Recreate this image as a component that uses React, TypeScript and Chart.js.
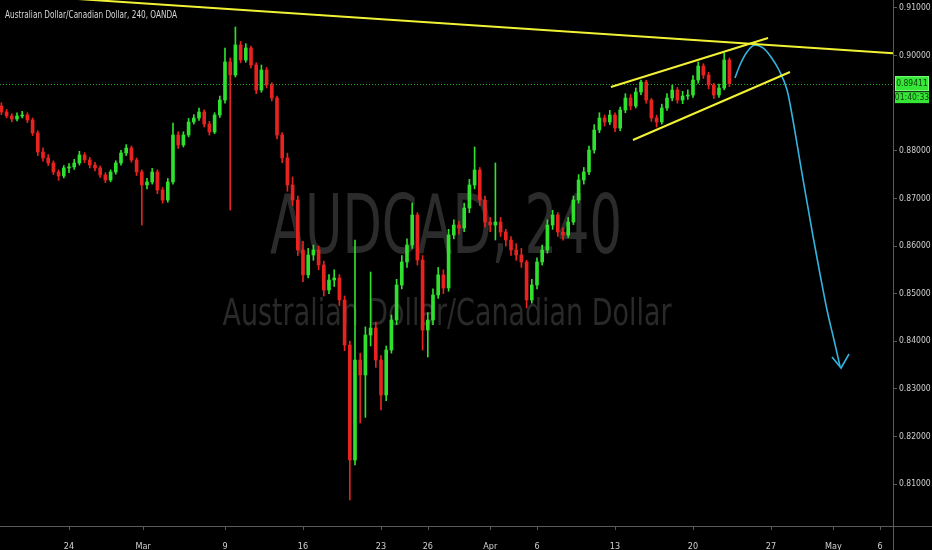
import { useEffect, useRef } from "react"
import { Chart, registerables } from "chart.js"

Chart.register(...registerables)

// 8h candles, 3 per trading day; x unit = trading days counted from Mon Feb 24
const FIRST_BAR_DAY = -13 / 3
const BARS_PER_DAY = 3
const FIRST_OPEN = 0.88941

const closes = [
  0.88815, 0.88731, 0.88668, 0.88731, 0.88752, 0.88647, 0.88374, 0.87975, 0.87849, 0.87744,
  0.87555, 0.87471, 0.87639, 0.8766, 0.87744, 0.87912, 0.87807, 0.87702, 0.87639, 0.87492,
  0.87387, 0.87555, 0.87744, 0.87954, 0.88059, 0.87807, 0.87555, 0.87282, 0.87345, 0.87555,
  0.87176, 0.86966, 0.87345, 0.88332, 0.88122, 0.88332, 0.88605, 0.88689, 0.88815, 0.88563,
  0.88395, 0.88752, 0.89067, 0.89866, 0.89592, 0.90223, 0.89908, 0.9016, 0.89803, 0.89277,
  0.89697, 0.89382, 0.89109, 0.88332, 0.87849, 0.87282, 0.86966, 0.85916, 0.85393, 0.85811,
  0.85916, 0.85601, 0.85076, 0.85286, 0.85328, 0.84866, 0.8392, 0.81504, 0.83605, 0.8329,
  0.8413, 0.84277, 0.83605, 0.8287, 0.83815, 0.84445, 0.85181, 0.85664, 0.86021, 0.86651,
  0.85706, 0.84235, 0.84445, 0.84971, 0.85393, 0.85118, 0.86231, 0.86441, 0.86378, 0.86798,
  0.87282, 0.87597, 0.86966, 0.86504, 0.86441, 0.86504, 0.86294, 0.86126, 0.85916, 0.85811,
  0.85664, 0.84866, 0.85181, 0.85664, 0.85916, 0.86441, 0.86651, 0.86294, 0.86231, 0.86504,
  0.86966, 0.87387, 0.87555, 0.88016, 0.88437, 0.88689, 0.88605, 0.88752, 0.88479, 0.88857,
  0.89109, 0.88941, 0.89235, 0.89445, 0.89067, 0.88689, 0.88605, 0.88899, 0.89109, 0.89277,
  0.89067, 0.89151, 0.89172, 0.89487, 0.89781, 0.89592, 0.89382, 0.89172, 0.89319, 0.89908,
  0.89411,
]

const highs = [
  0.8901, 0.8887, 0.8878, 0.888, 0.8883, 0.888, 0.8869, 0.8842, 0.8806, 0.8792,
  0.8779, 0.876, 0.8769, 0.8773, 0.8782, 0.8799, 0.8796, 0.8786, 0.8776, 0.8768,
  0.8754, 0.876, 0.8779, 0.8801, 0.8813, 0.881, 0.8785, 0.876, 0.8742, 0.8763,
  0.876, 0.8723, 0.8742, 0.88584, 0.884, 0.884, 0.8868, 0.8876, 0.889, 0.8886,
  0.8862, 0.888, 0.8915, 0.9016, 0.8995, 0.90601, 0.903, 0.9025, 0.902, 0.8985,
  0.89803, 0.8975, 0.8943, 0.8915, 0.8838, 0.8795, 0.8745, 0.8705, 0.861, 0.8595,
  0.8602, 0.86, 0.8568, 0.854, 0.855, 0.854, 0.8495, 0.84, 0.86126, 0.8375,
  0.843, 0.85454, 0.844, 0.837, 0.839, 0.8455, 0.853, 0.858, 0.8615, 0.86903,
  0.867, 0.858, 0.846, 0.851, 0.8555, 0.855, 0.8635, 0.8655, 0.8652, 0.869,
  0.874, 0.8808, 0.8765, 0.8705, 0.866, 0.87744, 0.866, 0.8635, 0.862, 0.8605,
  0.8595, 0.857, 0.853, 0.8575, 0.8602, 0.8655, 0.8675, 0.867, 0.8638, 0.866,
  0.8705, 0.875, 0.8765, 0.881, 0.8855, 0.888, 0.8875, 0.8885, 0.888, 0.8892,
  0.892, 0.8918, 0.8932, 0.89487, 0.8948, 0.891, 0.8875, 0.8898, 0.892, 0.8938,
  0.8933, 0.8925, 0.8928, 0.8958, 0.89866, 0.8983, 0.8965, 0.8942, 0.894, 0.90055,
  0.8995,
]

const lows = [
  0.8876, 0.8869, 0.8861, 0.8863, 0.8869, 0.8859, 0.8832, 0.879, 0.8778, 0.8769,
  0.875, 0.8738, 0.8743, 0.8754, 0.8761, 0.877, 0.8775, 0.8764, 0.8758, 0.8744,
  0.8733, 0.8735, 0.8751, 0.877, 0.879, 0.8776, 0.8748, 0.86441, 0.872, 0.873,
  0.871, 0.869, 0.8692, 0.873, 0.8805, 0.8808, 0.8829, 0.8856, 0.8864, 0.885,
  0.8833, 0.8836, 0.887, 0.89, 0.86756, 0.8955, 0.8985, 0.8986, 0.8974, 0.892,
  0.8923, 0.8932, 0.8905, 0.8825, 0.8775, 0.8715, 0.8685, 0.858, 0.8525, 0.8533,
  0.857, 0.855, 0.8495, 0.85, 0.8515, 0.8475, 0.838, 0.80664, 0.814, 0.82282,
  0.824, 0.839, 0.8345, 0.82555, 0.8275, 0.8375, 0.8435, 0.851, 0.8555, 0.8595,
  0.856, 0.83815, 0.83668, 0.8435, 0.849, 0.85, 0.8505, 0.8615, 0.8625, 0.863,
  0.867, 0.872, 0.8685, 0.864, 0.863, 0.86126, 0.862, 0.86, 0.858, 0.857,
  0.8555, 0.84698, 0.848, 0.851, 0.856, 0.8585, 0.8635, 0.862, 0.8612, 0.8618,
  0.8645, 0.869, 0.873, 0.875, 0.8795, 0.8838, 0.8852, 0.8855, 0.884, 0.8842,
  0.888, 0.8886, 0.889, 0.8918, 0.89, 0.8862, 0.885, 0.8856, 0.8885, 0.8905,
  0.89, 0.8899, 0.8908, 0.8912, 0.8942, 0.8952, 0.893, 0.891, 0.8912, 0.8928,
  0.8935,
]

const dateTickDays = [0, 4.75, 10, 15, 20, 23, 27, 30, 35, 40, 45, 49, 52]
const dateTickLabels = ["24", "Mar", "9", "16", "23", "26", "Apr", "6", "13", "20", "27", "May", "6"]
const priceTicks = [0.81, 0.82, 0.83, 0.84, 0.85, 0.86, 0.87, 0.88, 0.9, 0.91]

// hand drawn analysis lines (day, price)
const resistanceDays = [-0.58, 52.82]
const resistancePrices = [0.91214, 0.90048]
const wedgeTopDays = [34.74, 44.81]
const wedgeTopPrices = [0.8934, 0.9037]
const wedgeBottomDays = [36.15, 46.22]
const wedgeBottomPrices = [0.88227, 0.89655]
const forecastDays = [42.69, 43.01, 43.46, 43.97, 44.49, 45.0, 45.51, 46.03, 46.22, 46.54, 46.86, 47.24, 47.69, 48.14, 48.59, 49.04, 49.42]
const forecastPrices = [0.89529, 0.89802, 0.90076, 0.90223, 0.9016, 0.89971, 0.89697, 0.89277, 0.88983, 0.88395, 0.87765, 0.8705, 0.8621, 0.85412, 0.84655, 0.84025, 0.83479]
const arrowDays = [48.91, 49.49, 50.0]
const arrowPrices = [0.83668, 0.83437, 0.83731]

const titleText = "Australian Dollar/Canadian Dollar, 240, OANDA"
const watermarkSymbol = "AUDCAD, 240"
const watermarkName = "Australian Dollar/Canadian Dollar"
const countdownLabel = "01:40:33"

const UP = "#2fe02f"
const DOWN = "#e8231f"
const YELLOW = "#f2f235"
const CYAN = "#33b4de"
const AXIS = "#5a5a5a"
const LABEL = "#cfcfcf"
const NARROW = "'Liberation Sans Narrow', 'DejaVu Sans Condensed', 'Liberation Sans', sans-serif"

const opens = closes.map((_, i) => (i === 0 ? FIRST_OPEN : closes[i - 1]))
const barDay = (i: number) => FIRST_BAR_DAY + i / BARS_PER_DAY
const isUp = (i: number) => closes[i] >= opens[i]
const pts = (xs: number[], ys: number[]) => xs.map((x, i) => ({ x, y: ys[i] }))

function fitText(ctx: CanvasRenderingContext2D, text: string, cx: number, baseline: number, width: number, font: string, color: string) {
  ctx.save()
  ctx.font = font
  ctx.fillStyle = color
  ctx.textAlign = "center"
  ctx.textBaseline = "alphabetic"
  const w = ctx.measureText(text).width
  ctx.translate(cx, baseline)
  ctx.scale(width / w, 1)
  ctx.fillText(text, 0, 0)
  ctx.restore()
}

const decorPlugin = {
  id: "decor",
  beforeDraw(chart: any) {
    const { ctx, width, height } = chart
    ctx.save()
    ctx.fillStyle = "#000"
    ctx.fillRect(0, 0, width, height)
    ctx.restore()
  },
  beforeDatasetsDraw(chart: any) {
    const { ctx, chartArea } = chart
    const y = chart.scales.y
    fitText(ctx, watermarkSymbol, 446, 253, 352, "82px 'DejaVu Sans', sans-serif", "#2b2b2b")
    fitText(ctx, watermarkName, 447, 325, 449, "38px 'DejaVu Sans', sans-serif", "#292929")
    // last price line
    const py = Math.round(y.getPixelForValue(closes[closes.length - 1])) + 0.5
    ctx.save()
    ctx.strokeStyle = "#22a622"
    ctx.lineWidth = 1
    ctx.setLineDash([1, 2])
    ctx.beginPath()
    ctx.moveTo(chartArea.left, py)
    ctx.lineTo(chartArea.right, py)
    ctx.stroke()
    ctx.restore()
  },
  afterDraw(chart: any) {
    const { ctx, chartArea, width, height } = chart
    const y = chart.scales.y
    const x = chart.scales.x
    ctx.save()
    ctx.strokeStyle = AXIS
    ctx.lineWidth = 1
    ctx.beginPath()
    ctx.moveTo(chartArea.right + 0.5, 0)
    ctx.lineTo(chartArea.right + 0.5, height)
    ctx.moveTo(0, chartArea.bottom + 0.5)
    ctx.lineTo(width, chartArea.bottom + 0.5)
    // small date tick marks
    dateTickDays.forEach((d) => {
      const px = Math.round(x.getPixelForValue(d)) + 0.5
      ctx.moveTo(px, chartArea.bottom + 1)
      ctx.lineTo(px, chartArea.bottom + 4)
    })
    ctx.stroke()

    // title
    fitText(ctx, titleText, 5 + 86, 18, 172, "10px 'DejaVu Sans', sans-serif", "#d6d6d6")

    // price label boxes
    const py = y.getPixelForValue(closes[closes.length - 1])
    const bx = chartArea.right + 2
    ctx.fillStyle = "#36e636"
    ctx.fillRect(bx, py - 7.5, 34, 15)
    ctx.fillRect(bx, py + 8.5, 34, 11)
    ctx.strokeStyle = "#7cff7c"
    ctx.strokeRect(bx + 0.5, py - 7, 33, 14)
    ctx.fillStyle = "#0b420b"
    ctx.font = "8.5px " + NARROW
    ctx.textAlign = "center"
    ctx.textBaseline = "middle"
    ctx.fillText(closes[closes.length - 1].toFixed(5), bx + 17, py + 0.5)
    ctx.fillText(countdownLabel, bx + 17, py + 14.5)
    ctx.restore()
  },
}

export default function App() {
  const chartRef = useRef<HTMLCanvasElement>(null)
  const chartInstance = useRef<Chart | null>(null)

  useEffect(() => {
    if (!chartRef.current) return
    if (chartInstance.current) chartInstance.current.destroy()
    const ctx = chartRef.current.getContext("2d")
    if (!ctx) return

    const candleColor = (c: any) => (isUp(c.dataIndex) ? UP : DOWN)
    const analysisLine = (data: any[], color: string, w: number, smooth = false) => ({
      type: "line" as const,
      data,
      borderColor: color,
      borderWidth: w,
      pointRadius: 0,
      cubicInterpolationMode: smooth ? "monotone" : "default",
      tension: 0,
      order: 1,
    })

    chartInstance.current = new Chart(ctx, {
      type: "bar",
      data: {
        datasets: [
          {
            label: "wicks",
            data: closes.map((_, i) => ({ x: barDay(i), y: [lows[i], highs[i]] })) as any,
            backgroundColor: candleColor,
            barThickness: 1,
            grouped: false,
            order: 3,
          },
          {
            label: "bodies",
            data: closes.map((c, i) => ({ x: barDay(i), y: [opens[i], c] })) as any,
            backgroundColor: candleColor,
            barThickness: 3,
            minBarLength: 1,
            grouped: false,
            order: 2,
          },
          analysisLine(pts(resistanceDays, resistancePrices), YELLOW, 2),
          analysisLine(pts(wedgeTopDays, wedgeTopPrices), YELLOW, 2),
          analysisLine(pts(wedgeBottomDays, wedgeBottomPrices), YELLOW, 2),
          analysisLine(pts(forecastDays, forecastPrices), CYAN, 1.6, true),
          analysisLine(pts(arrowDays, arrowPrices), CYAN, 1.6),
        ] as any,
      },
      options: {
        responsive: true,
        maintainAspectRatio: false,
        animation: false,
        layout: { padding: 0 },
        plugins: {
          legend: { display: false },
          tooltip: { enabled: false },
        },
        scales: {
          x: {
            type: "linear",
            offset: false,
            min: -69 / 15.6,
            max: (893 - 69) / 15.6,
            border: { display: false },
            grid: { offset: false, display: false },
            afterBuildTicks: (scale: any) => {
              scale.ticks = dateTickDays.map((v) => ({ value: v }))
            },
            afterFit: (scale: any) => {
              scale.height = 24
              scale.paddingLeft = 0
              scale.paddingRight = 0
            },
            ticks: {
              autoSkip: false,
              maxRotation: 0,
              padding: 7,
              color: LABEL,
              font: { family: NARROW, size: 9 },
              callback: (_v: any, i: number) => dateTickLabels[i],
            },
          },
          y: {
            position: "right",
            min: 0.80118,
            max: 0.91168,
            border: { display: false },
            grid: { drawOnChartArea: false, drawTicks: true, tickLength: 4, color: AXIS },
            afterBuildTicks: (scale: any) => {
              scale.ticks = priceTicks.map((v) => ({ value: v }))
            },
            afterFit: (scale: any) => {
              scale.width = 39
              scale.paddingTop = 0
              scale.paddingBottom = 0
            },
            ticks: {
              padding: 2,
              color: LABEL,
              font: { family: NARROW, size: 8.5 },
              callback: (v: any) => Number(v).toFixed(5),
            },
          },
        },
      } as any,
      plugins: [decorPlugin],
    })

    return () => {
      if (chartInstance.current) {
        chartInstance.current.destroy()
        chartInstance.current = null
      }
    }
  }, [])

  return (
    <div style={{ position: "fixed", left: 0, top: 0, width: 932, height: 550, background: "#000" }}>
      <canvas ref={chartRef}></canvas>
    </div>
  )
}
